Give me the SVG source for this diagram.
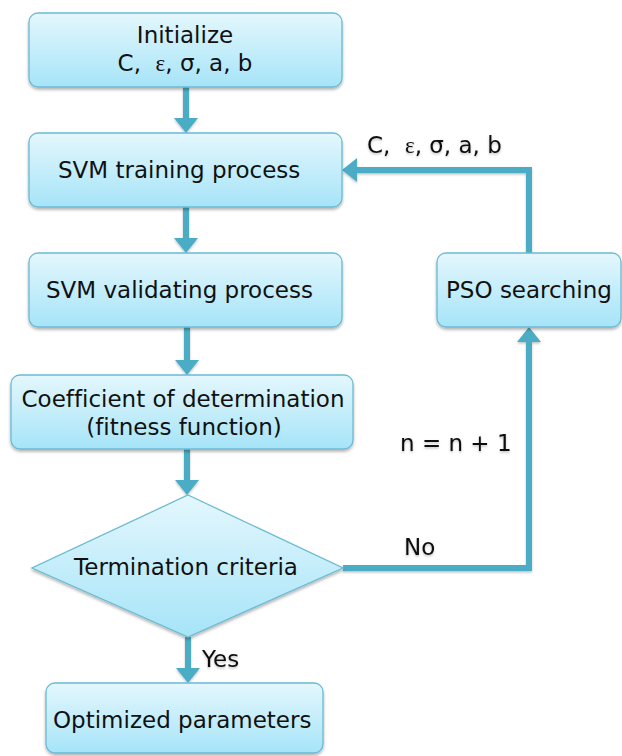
<svg xmlns="http://www.w3.org/2000/svg" width="622" height="756" viewBox="0 0 622 756">
  <defs>
    <linearGradient id="fillGrad" x1="0" y1="0" x2="0" y2="1">
      <stop offset="0" stop-color="#E4F7FD"/>
      <stop offset="1" stop-color="#A6E4F8"/>
    </linearGradient>
    <filter id="shadow" x="-10%" y="-10%" width="120%" height="130%">
      <feDropShadow dx="0" dy="2" stdDeviation="1.5" flood-color="#000" flood-opacity="0.3"/>
    </filter>
    <filter id="lshadow" x="-10%" y="-10%" width="120%" height="130%">
      <feDropShadow dx="0" dy="1.5" stdDeviation="1" flood-color="#000" flood-opacity="0.25"/>
    </filter>
  </defs>
  <style>
    .box { fill: url(#fillGrad); stroke: #6BBBD3; stroke-width: 1.3; filter: url(#shadow); }
    .txt { font-family: "DejaVu Sans", Verdana, sans-serif; font-size: 23px; fill: #111; white-space: pre; font-variant-ligatures: none; }
    .lbl { font-family: "DejaVu Sans", Verdana, sans-serif; font-size: 23px; fill: #111; white-space: pre; font-variant-ligatures: none; }
    .eps { font-family: "Liberation Serif", serif; }
    .ln { fill: none; stroke: #4BACC6; stroke-width: 6; }
    .hd { fill: #4BACC6; }
  </style>

  <g id="connectors" filter="url(#lshadow)">
    <line class="ln" x1="186" y1="87" x2="186" y2="119"/>
    <polygon class="hd" points="174,118 198,118 186,133"/>
    <line class="ln" x1="186" y1="207" x2="186" y2="239"/>
    <polygon class="hd" points="174,238 198,238 186,253"/>
    <line class="ln" x1="187" y1="327" x2="187" y2="361"/>
    <polygon class="hd" points="175,360 199,360 187,375"/>
    <line class="ln" x1="187" y1="449" x2="187" y2="481"/>
    <polygon class="hd" points="175,480 199,480 187,495"/>
    <line class="ln" x1="188" y1="637" x2="188" y2="669"/>
    <polygon class="hd" points="176,668 200,668 188,683"/>
    <polyline class="ln" points="343,568 529,568 529,341"/>
    <polygon class="hd" points="517,342 541,342 529,327"/>
    <polyline class="ln" points="529,253 529,170 356,170"/>
    <polygon class="hd" points="357,158 357,182 342,170"/>
    <text class="lbl" x="367" y="153">C,  <tspan class="eps">ε</tspan>, σ, a, b</text>
    <text class="lbl" x="400" y="451">n = n + 1</text>
    <text class="lbl" x="404" y="555">No</text>
    <text class="lbl" x="202" y="667">Yes</text>
  </g>

  <g id="init">
    <rect class="box" x="29" y="13" width="313" height="74" rx="9"/>
    <text class="txt" x="185" y="43" text-anchor="middle">Initialize</text>
    <text class="txt" x="185" y="71" text-anchor="middle">C,  <tspan class="eps">ε</tspan>, σ, a, b</text>
  </g>

  <g id="svm-train">
    <rect class="box" x="29" y="133" width="313" height="74" rx="9"/>
    <text class="txt" x="58" y="178">SVM training process</text>
  </g>

  <g id="svm-validate">
    <rect class="box" x="29" y="253" width="313" height="74" rx="9"/>
    <text class="txt" x="46" y="298">SVM validating process</text>
  </g>

  <g id="coefficient">
    <rect class="box" x="11" y="375" width="342" height="74" rx="9"/>
    <text class="txt" x="183" y="407" text-anchor="middle">Coefficient of determination</text>
    <text class="txt" x="184" y="435" text-anchor="middle">(fitness function)</text>
  </g>

  <g id="termination">
    <polygon class="box" points="188,495 343,568 188,637 32,568"/>
    <text class="txt" x="186" y="575" text-anchor="middle">Termination criteria</text>
  </g>

  <g id="optimized">
    <rect class="box" x="46" y="683" width="277" height="70" rx="9"/>
    <text class="txt" x="53" y="728">Optimized parameters</text>
  </g>

  <g id="pso">
    <rect class="box" x="437" y="253" width="184" height="74" rx="9"/>
    <text class="txt" x="446" y="298">PSO searching</text>
  </g>
</svg>
